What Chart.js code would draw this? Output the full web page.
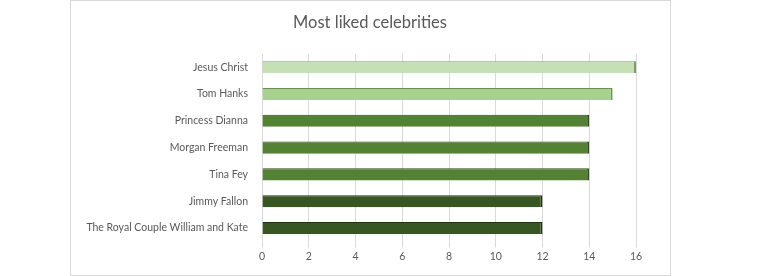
<!DOCTYPE html>
<html><head><meta charset="utf-8">
<script src="https://cdn.jsdelivr.net/npm/chart.js@4/dist/chart.umd.min.js"></script>
<style>
html,body{margin:0;padding:0;background:#fff;}
#wrap{position:relative;width:765px;height:276px;}
#frame{position:absolute;left:70px;top:0px;width:599px;height:274px;border:1px solid #d9d9d9;box-sizing:content-box;}
canvas{position:absolute;left:0;top:0;}
</style></head>
<body>
<div id="wrap"><div id="frame"></div><canvas id="c" width="765" height="276"></canvas></div>
<script>
const categories = ["Jesus Christ","Tom Hanks","Princess Dianna","Morgan Freeman","Tina Fey","Jimmy Fallon","The Royal Couple William and Kate"];
const values = [16,15,14,14,14,12,12];
const barColors = ["#c5e0b4","#a9d18e","#548235","#548235","#548235","#375623","#375623"];
const edgeColors = ["#7f9a6e","#6f8f5a","#2f4a1d","#2f4a1d","#2f4a1d","#1f3312","#1f3312"];
const xTicks = [0,2,4,6,8,10,12,14,16];

new Chart(document.getElementById('c'), {
  type: 'bar',
  data: {
    labels: categories,
    datasets: [{
      data: values,
      backgroundColor: barColors,
      borderColor: edgeColors,
      borderWidth: {top:1, right:2, bottom:0, left:0},
      borderSkipped: false,
      barPercentage: 0.75,
      categoryPercentage: 0.6
    }]
  },
  options: {
    indexAxis: 'y',
    responsive: false,
    animation: false,
    layout: {padding: {left: 0, right: 25, top: 0, bottom: 10}},
    plugins: {
      legend: {display: false},
      tooltip: {enabled: false},
      title: {
        display: true,
        text: 'Most liked celebrities',
        color: '#595959',
        font: {family: 'Lato', size: 16.5, weight: 'normal'},
        padding: {top: 13, bottom: 21}
      }
    },
    scales: {
      x: {
        min: 0, max: 16,
        afterBuildTicks: (s) => { s.ticks = xTicks.map(v => ({value: v})); },
        grid: {color: '#d9d9d9', drawTicks: true, tickLength: 6},
        border: {display: false},
        ticks: {color: '#595959', font: {family: 'Lato', size: 10.5}, padding: 3}
      },
      y: {
        afterFit: (s) => { s.width = 262; },
        grid: {display: false, drawTicks: false},
        border: {display: false},
        ticks: {color: '#595959', font: {family: 'Lato', size: 10.5}, padding: 14}
      },
      yRightSpacer: {
        type: 'linear',
        position: 'right',
        display: true,
        afterFit: (s) => { s.width = 104; },
        grid: {display: false, drawTicks: false},
        border: {display: false},
        ticks: {display: false}
      }
    }
  }
});
</script>
</body></html>
